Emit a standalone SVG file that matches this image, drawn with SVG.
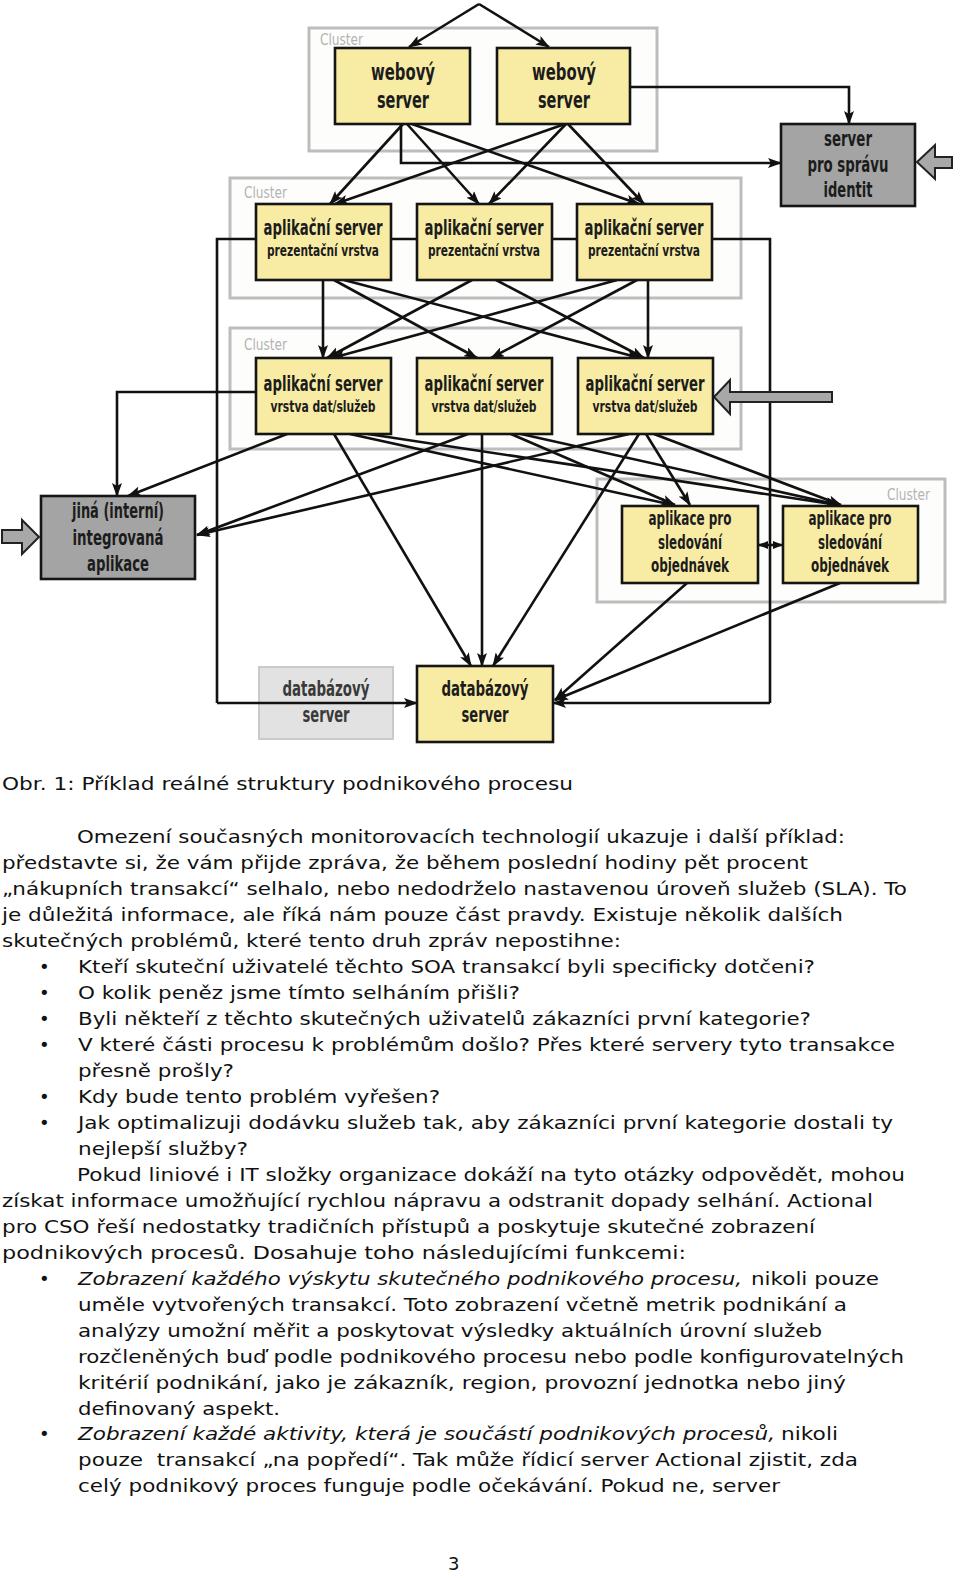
<svg xmlns="http://www.w3.org/2000/svg" width="960" height="1578" viewBox="0 0 960 1578">
<style>
.cl{fill:#fdfdfb;stroke:#bdbdbd;stroke-width:3}
.cll{font-family:"Liberation Sans Narrow","DejaVu Sans Condensed","Arial Narrow",sans-serif;font-size:16px;fill:#b4b4b4}
.y{fill:#f8eca4;stroke:#151515;stroke-width:2.6}
.g{fill:#a4a4a4;stroke:#151515;stroke-width:2.6}
.lg{fill:#e2e2e2;stroke:#cacaca;stroke-width:2}
.t{font-family:"Liberation Sans Narrow","DejaVu Sans Condensed","Arial Narrow",sans-serif;fill:#1c1c1c;text-anchor:middle;font-weight:bold}
.b{font-size:23px}.m{font-size:21px}.s{font-size:16.5px}.r{font-size:19px}
.c path{fill:none;stroke:#111;stroke-width:2.6}
.c .a{marker-end:url(#ah)}
.ga{fill:#a8a8a8;stroke:#222;stroke-width:2}
.p{font-family:"DejaVu Sans","Verdana",sans-serif;font-size:18px;fill:#111}
.i{font-style:italic}
</style>
<defs>
<marker id="ah" viewBox="0 0 14 10" refX="13" refY="5" markerWidth="14" markerHeight="10" markerUnits="userSpaceOnUse" orient="auto"><path d="M0,0 L14,5 L0,10 L3,5 z" fill="#111"/></marker>
<marker id="sm" viewBox="0 0 10 8" refX="9" refY="4" markerWidth="10" markerHeight="8" markerUnits="userSpaceOnUse" orient="auto-start-reverse"><path d="M0,0 L10,4 L0,8 z" fill="#111"/></marker>
</defs>
<rect width="960" height="1578" fill="#fff"/>

<g id="clusters">
<rect class="cl" x="309" y="28" width="348" height="123"/>
<text class="cll" x="320" y="45" textLength="43" lengthAdjust="spacingAndGlyphs">Cluster</text>
<rect class="cl" x="230" y="178" width="511" height="120"/>
<text class="cll" x="244" y="198" textLength="43" lengthAdjust="spacingAndGlyphs">Cluster</text>
<rect class="cl" x="230" y="328" width="511" height="121"/>
<text class="cll" x="244" y="350" textLength="43" lengthAdjust="spacingAndGlyphs">Cluster</text>
<rect class="cl" x="597" y="479" width="348" height="123"/>
<text class="cll" x="887" y="500" textLength="43" lengthAdjust="spacingAndGlyphs">Cluster</text>
</g>

<g id="db1">
<rect class="lg" x="259" y="667" width="134" height="72"/>
<text class="t m" x="326" y="696" style="fill:#3a3a3a" textLength="87" lengthAdjust="spacingAndGlyphs">databázový</text>
<text class="t m" x="326" y="722" style="fill:#3a3a3a" textLength="47" lengthAdjust="spacingAndGlyphs">server</text>
</g>

<g class="c" id="connectors">
<path class="a" d="M479,4 L409,47"/>
<path class="a" d="M479,4 L549,47"/>
<path class="a" d="M630,87 H849 V124"/>
<path class="a" d="M401,124 V163 H781"/>
<path class="a" d="M403,124 L330,204"/>
<path class="a" d="M407,124 L479,204"/>
<path class="a" d="M412,124 L639,204"/>
<path class="a" d="M565,124 L335,204"/>
<path class="a" d="M566,124 L489,204"/>
<path class="a" d="M568,124 L644,204"/>
<path d="M256,239 H217 V703"/>
<path class="a" d="M217,703 H417"/>
<path d="M391,239 H417 M552,239 H577"/>
<path d="M712,239 H770 V703"/>
<path class="a" d="M770,703 H553"/>
<path class="a" d="M323,280 V358"/>
<path class="a" d="M334,280 L477,358"/>
<path class="a" d="M344,280 L640,358"/>
<path class="a" d="M472,280 L327,358"/>
<path class="a" d="M496,280 L644,358"/>
<path class="a" d="M617,280 L332,358"/>
<path class="a" d="M637,280 L491,358"/>
<path class="a" d="M648,280 V358"/>
<path class="a" d="M256,392 H117 V496"/>
<path class="a" d="M287,434 L128,496"/>
<path class="a" d="M468,434 L197,535"/>
<path class="a" d="M629,434 L197,535"/>
<path class="a" d="M334,434 L471,666"/>
<path class="a" d="M482,434 V666"/>
<path class="a" d="M639,434 L493,666"/>
<path class="a" d="M350,434 L673,505"/>
<path class="a" d="M511,434 L675,505"/>
<path class="a" d="M646,434 L690,505"/>
<path class="a" d="M368,434 L838,505"/>
<path class="a" d="M521,434 L839,505"/>
<path class="a" d="M654,434 L841,505"/>
<path class="a" d="M687,583 L555,700"/>
<path class="a" d="M840,583 L555,700"/>
<path d="M759,545 H782" style="marker-start:url(#sm);marker-end:url(#sm)"/>
</g>

<g id="inputs">
<polygon class="ga" points="917,162 935,145 935,157 952,157 952,168 935,168 935,179"/>
<polygon class="ga" points="714,397 730,380 730,392 832,392 832,402 730,402 730,414"/>
<polygon class="ga" points="39,537 22,520 22,530 2,530 2,543 22,543 22,554"/>
</g>

<g id="web1">
<rect class="y" x="335" y="48" width="135" height="76"/>
<text class="t b" x="403" y="80" textLength="64" lengthAdjust="spacingAndGlyphs">webový</text>
<text class="t b" x="403" y="108" textLength="52" lengthAdjust="spacingAndGlyphs">server</text>
</g>
<g id="web2">
<rect class="y" x="497" y="48" width="133" height="76"/>
<text class="t b" x="564" y="80" textLength="64" lengthAdjust="spacingAndGlyphs">webový</text>
<text class="t b" x="564" y="108" textLength="52" lengthAdjust="spacingAndGlyphs">server</text>
</g>
<g id="identit">
<rect class="g" x="781" y="124" width="134" height="82"/>
<text class="t m" x="848" y="146" textLength="48" lengthAdjust="spacingAndGlyphs">server</text>
<text class="t m" x="848" y="172" textLength="81" lengthAdjust="spacingAndGlyphs">pro správu</text>
<text class="t m" x="848" y="197" textLength="49" lengthAdjust="spacingAndGlyphs">identit</text>
</g>

<g id="pres1">
<rect class="y" x="256" y="204" width="135" height="76"/>
<text class="t m" x="323" y="235" textLength="119" lengthAdjust="spacingAndGlyphs">aplikační server</text>
<text class="t s" x="323" y="256" textLength="112" lengthAdjust="spacingAndGlyphs">prezentační vrstva</text>
</g>
<g id="pres2">
<rect class="y" x="417" y="204" width="135" height="76"/>
<text class="t m" x="484" y="235" textLength="119" lengthAdjust="spacingAndGlyphs">aplikační server</text>
<text class="t s" x="484" y="256" textLength="112" lengthAdjust="spacingAndGlyphs">prezentační vrstva</text>
</g>
<g id="pres3">
<rect class="y" x="577" y="204" width="135" height="76"/>
<text class="t m" x="644" y="235" textLength="119" lengthAdjust="spacingAndGlyphs">aplikační server</text>
<text class="t s" x="644" y="256" textLength="112" lengthAdjust="spacingAndGlyphs">prezentační vrstva</text>
</g>

<g id="data1">
<rect class="y" x="256" y="358" width="135" height="76"/>
<text class="t m" x="323" y="391" textLength="119" lengthAdjust="spacingAndGlyphs">aplikační server</text>
<text class="t s" x="323" y="412" textLength="105" lengthAdjust="spacingAndGlyphs">vrstva dat/služeb</text>
</g>
<g id="data2">
<rect class="y" x="417" y="358" width="135" height="76"/>
<text class="t m" x="484" y="391" textLength="119" lengthAdjust="spacingAndGlyphs">aplikační server</text>
<text class="t s" x="484" y="412" textLength="105" lengthAdjust="spacingAndGlyphs">vrstva dat/služeb</text>
</g>
<g id="data3">
<rect class="y" x="578" y="358" width="135" height="76"/>
<text class="t m" x="645" y="391" textLength="119" lengthAdjust="spacingAndGlyphs">aplikační server</text>
<text class="t s" x="645" y="412" textLength="105" lengthAdjust="spacingAndGlyphs">vrstva dat/služeb</text>
</g>

<g id="jina">
<rect class="g" x="41" y="496" width="154" height="83"/>
<text class="t m" x="118" y="518" textLength="92" lengthAdjust="spacingAndGlyphs">jiná (interní)</text>
<text class="t m" x="118" y="545" textLength="91" lengthAdjust="spacingAndGlyphs">integrovaná</text>
<text class="t m" x="118" y="571" textLength="62" lengthAdjust="spacingAndGlyphs">aplikace</text>
</g>

<g id="track1">
<rect class="y" x="622" y="506" width="136" height="77"/>
<text class="t r" x="690" y="525" textLength="83" lengthAdjust="spacingAndGlyphs">aplikace pro</text>
<text class="t r" x="690" y="549" textLength="64" lengthAdjust="spacingAndGlyphs">sledování</text>
<text class="t r" x="690" y="572" textLength="78" lengthAdjust="spacingAndGlyphs">objednávek</text>
</g>
<g id="track2">
<rect class="y" x="783" y="506" width="135" height="77"/>
<text class="t r" x="850" y="525" textLength="83" lengthAdjust="spacingAndGlyphs">aplikace pro</text>
<text class="t r" x="850" y="549" textLength="64" lengthAdjust="spacingAndGlyphs">sledování</text>
<text class="t r" x="850" y="572" textLength="78" lengthAdjust="spacingAndGlyphs">objednávek</text>
</g>

<g id="db2">
<rect class="y" x="417" y="666" width="136" height="76"/>
<text class="t m" x="485" y="696" textLength="87" lengthAdjust="spacingAndGlyphs">databázový</text>
<text class="t m" x="485" y="722" textLength="47" lengthAdjust="spacingAndGlyphs">server</text>
</g>

<g id="body">
<text class="p" x="2" y="790" textLength="571" lengthAdjust="spacingAndGlyphs">Obr. 1: Příklad reálné struktury podnikového procesu</text>
<text class="p" x="77" y="843" textLength="768" lengthAdjust="spacingAndGlyphs">Omezení současných monitorovacích technologií ukazuje i další příklad:</text>
<text class="p" x="2" y="869" textLength="806" lengthAdjust="spacingAndGlyphs">představte si, že vám přijde zpráva, že během poslední hodiny pět procent</text>
<text class="p" x="2" y="895" textLength="905" lengthAdjust="spacingAndGlyphs">„nákupních transakcí“ selhalo, nebo nedodrželo nastavenou úroveň služeb (SLA). To</text>
<text class="p" x="2" y="921" textLength="841" lengthAdjust="spacingAndGlyphs">je důležitá informace, ale říká nám pouze část pravdy. Existuje několik dalších</text>
<text class="p" x="2" y="947" textLength="619" lengthAdjust="spacingAndGlyphs">skutečných problémů, které tento druh zpráv nepostihne:</text>
<text class="p" x="39" y="973">•</text>
<text class="p" x="78" y="973" textLength="737" lengthAdjust="spacingAndGlyphs">Kteří skuteční uživatelé těchto SOA transakcí byli specificky dotčeni?</text>
<text class="p" x="39" y="999">•</text>
<text class="p" x="78" y="999" textLength="442" lengthAdjust="spacingAndGlyphs">O kolik peněz jsme tímto selháním přišli?</text>
<text class="p" x="39" y="1025">•</text>
<text class="p" x="78" y="1025" textLength="733" lengthAdjust="spacingAndGlyphs">Byli někteří z těchto skutečných uživatelů zákazníci první kategorie?</text>
<text class="p" x="39" y="1051">•</text>
<text class="p" x="78" y="1051" textLength="817" lengthAdjust="spacingAndGlyphs">V které části procesu k problémům došlo? Přes které servery tyto transakce</text>
<text class="p" x="78" y="1077" textLength="156" lengthAdjust="spacingAndGlyphs">přesně prošly?</text>
<text class="p" x="39" y="1103">•</text>
<text class="p" x="78" y="1103" textLength="362" lengthAdjust="spacingAndGlyphs">Kdy bude tento problém vyřešen?</text>
<text class="p" x="39" y="1129">•</text>
<text class="p" x="78" y="1129" textLength="815" lengthAdjust="spacingAndGlyphs">Jak optimalizuji dodávku služeb tak, aby zákazníci první kategorie dostali ty</text>
<text class="p" x="78" y="1155" textLength="170" lengthAdjust="spacingAndGlyphs">nejlepší služby?</text>
<text class="p" x="77" y="1181" textLength="828" lengthAdjust="spacingAndGlyphs">Pokud liniové i IT složky organizace dokáží na tyto otázky odpovědět, mohou</text>
<text class="p" x="2" y="1207" textLength="871" lengthAdjust="spacingAndGlyphs">získat informace umožňující rychlou nápravu a odstranit dopady selhání. Actional</text>
<text class="p" x="2" y="1233" textLength="813" lengthAdjust="spacingAndGlyphs">pro CSO řeší nedostatky tradičních přístupů a poskytuje skutečné zobrazení</text>
<text class="p" x="2" y="1259" textLength="684" lengthAdjust="spacingAndGlyphs">podnikových procesů. Dosahuje toho následujícími funkcemi:</text>
<text class="p" x="39" y="1285">•</text>
<text class="p i" x="78" y="1285" textLength="664" lengthAdjust="spacingAndGlyphs">Zobrazení každého výskytu skutečného podnikového procesu,</text>
<text class="p" x="751" y="1285" textLength="128" lengthAdjust="spacingAndGlyphs">nikoli pouze</text>
<text class="p" x="78" y="1311" textLength="769" lengthAdjust="spacingAndGlyphs">uměle vytvořených transakcí. Toto zobrazení včetně metrik podnikání a</text>
<text class="p" x="78" y="1337" textLength="744" lengthAdjust="spacingAndGlyphs">analýzy umožní měřit a poskytovat výsledky aktuálních úrovní služeb</text>
<text class="p" x="78" y="1363" textLength="826" lengthAdjust="spacingAndGlyphs">rozčleněných buď podle podnikového procesu nebo podle konfigurovatelných</text>
<text class="p" x="78" y="1389" textLength="768" lengthAdjust="spacingAndGlyphs">kritérií podnikání, jako je zákazník, region, provozní jednotka nebo jiný</text>
<text class="p" x="78" y="1415" textLength="202" lengthAdjust="spacingAndGlyphs">definovaný aspekt.</text>
<text class="p" x="39" y="1440">•</text>
<text class="p i" x="78" y="1440" textLength="697" lengthAdjust="spacingAndGlyphs">Zobrazení každé aktivity, která je součástí podnikových procesů,</text>
<text class="p" x="781" y="1440" textLength="57" lengthAdjust="spacingAndGlyphs">nikoli</text>
<text class="p" x="78" y="1466" textLength="780" lengthAdjust="spacingAndGlyphs">pouze &#160;transakcí „na popředí“. Tak může řídicí server Actional zjistit, zda</text>
<text class="p" x="78" y="1492" textLength="702" lengthAdjust="spacingAndGlyphs">celý podnikový proces funguje podle očekávání. Pokud ne, server</text>
<text class="p" x="448" y="1570">3</text>
</g>
</svg>
